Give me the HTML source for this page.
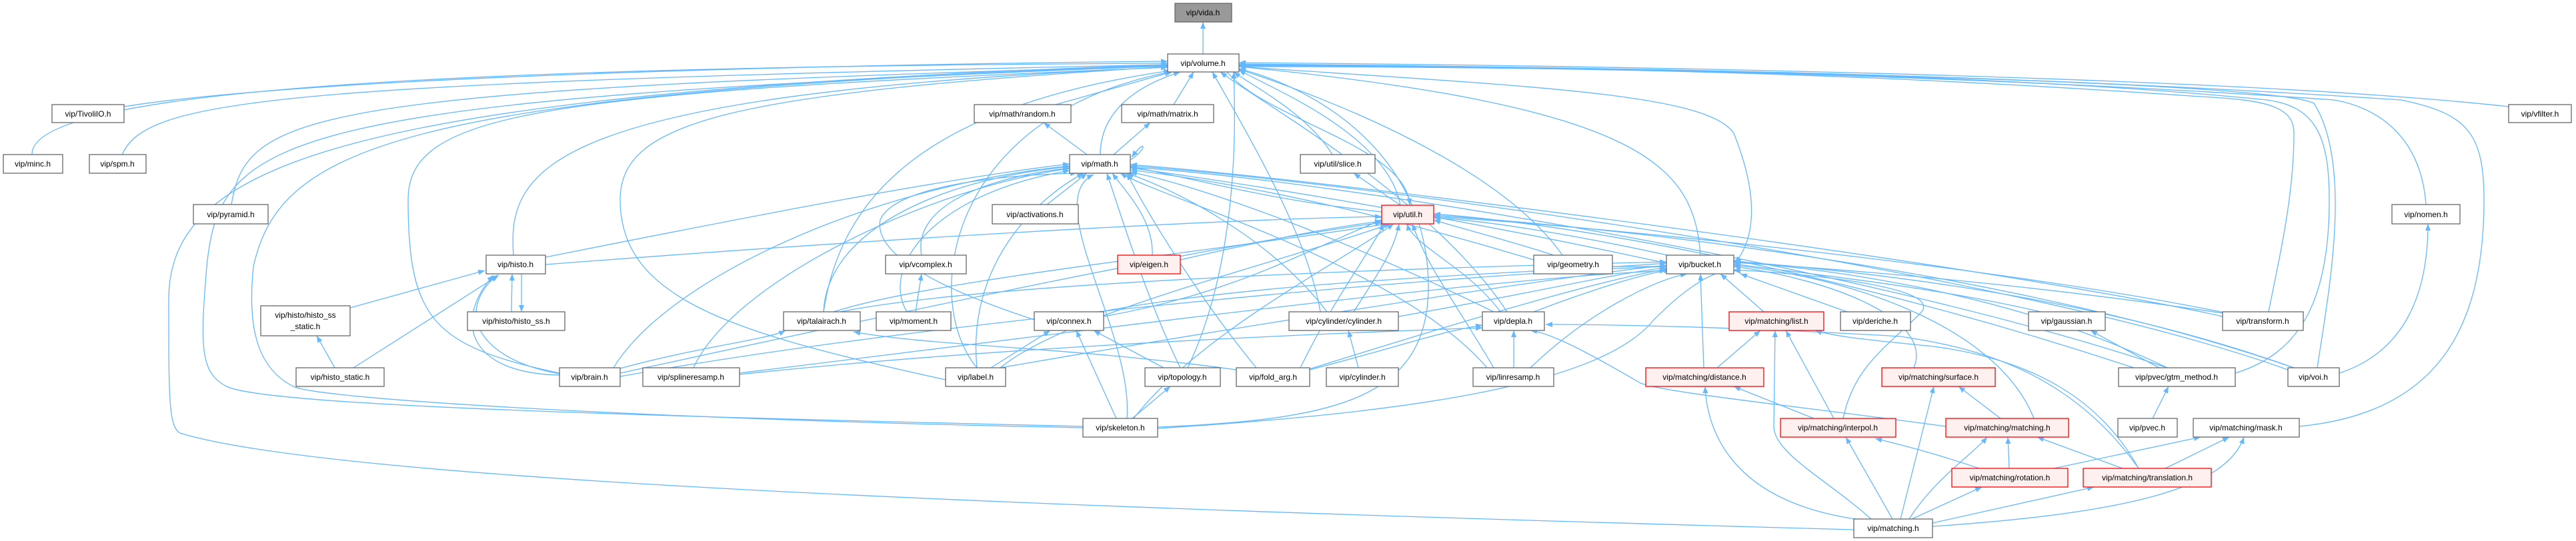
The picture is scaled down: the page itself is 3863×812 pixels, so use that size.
<!DOCTYPE html>
<html><head><meta charset="utf-8"><style>
html,body{margin:0;padding:0;background:#fff;}
svg{display:block;}
text{font-family:"Liberation Sans",sans-serif;font-size:12px;fill:#000;text-anchor:middle;}
.e{fill:none;stroke:#63b8ff;stroke-width:1.3;marker-end:url(#a);}
.n rect{fill:#fff;stroke:#666;stroke-width:1.3;}
.r rect{fill:#fff0f0;stroke:#f00;stroke-width:1.3;}
</style></head><body>
<svg width="3863" height="812" viewBox="0 0 3863 812" xmlns="http://www.w3.org/2000/svg">
<defs><marker id="a" markerUnits="userSpaceOnUse" markerWidth="12" markerHeight="10" refX="10" refY="4" orient="auto"><path d="M0,0 L10,4 L0,8 z" fill="#63b8ff"/></marker></defs>
<g>
<path class="e" d="M1804,81 L1804,33"/>
<path class="e" d="M186,160 C500,110 1400,95 1751,92"/>
<path class="e" d="M48,232 C45,140 600,100 1751,95"/>
<path class="e" d="M183,232 C220,150 400,125 1751,97"/>
<path class="e" d="M347,307 C370,170 450,135 1751,99"/>
<path class="e" d="M770,383 C760,250 820,140 1751,101"/>
<path class="e" d="M839,560 C650,520 612,480 612,300 C612,170 800,140 1751,101"/>
<path class="e" d="M2780,795 C1500,760 500,720 270,650 C253,640 253,600 253,450 C253,250 500,140 1751,97"/>
<path class="e" d="M1624,640 C1000,625 400,610 340,580 C300,560 300,520 310,400 C330,200 420,150 1751,99"/>
<path class="e" d="M1624,642 C1000,630 480,600 440,580 C380,550 372,480 380,400 C420,220 600,140 1751,98"/>
<path class="e" d="M1418,570 C1100,500 930,450 930,300 C930,180 1100,140 1751,100"/>
<path class="e" d="M1235,468 C1260,300 1380,160 1755,106"/>
<path class="e" d="M1465,552 C1380,450 1420,170 1760,107"/>
<path class="e" d="M1650,232 C1650,170 1700,130 1770,108"/>
<path class="e" d="M1583,157 L1757,108"/>
<path class="e" d="M1760,157 L1790,108"/>
<path class="e" d="M1781,552 C1830,450 1858,300 1850,108"/>
<path class="e" d="M1980,468 C1960,350 1870,200 1818,108"/>
<path class="e" d="M2260,468 C2150,300 1900,160 1830,108"/>
<path class="e" d="M1998,232 C1960,170 1880,130 1850,108"/>
<path class="e" d="M2100,308 C2080,200 1900,130 1858,105"/>
<path class="e" d="M1840,108 C1900,180 2110,220 2114,308"/>
<path class="e" d="M2343,383 C2250,250 2000,150 1858,104"/>
<path class="e" d="M2550,383 C2540,250 2470,160 1858,100"/>
<path class="e" d="M1858,100 C2300,130 2560,140 2600,200 C2640,300 2630,360 2602,395"/>
<path class="e" d="M1736,641 C2000,630 2142,600 2142,430 C2142,250 2000,140 1858,103"/>
<path class="e" d="M1736,643 C2100,620 2400,580 2480,480 C2560,400 2600,400 2611,411"/>
<path class="e" d="M3762,160 C3400,120 2600,100 1858,94"/>
<path class="e" d="M3638,307 C3630,200 3560,160 3500,150 C3000,115 2400,100 1858,96"/>
<path class="e" d="M3448,640 C3650,620 3725,500 3725,300 C3725,200 3700,170 3600,150 C3000,110 2400,100 1858,97"/>
<path class="e" d="M3508,560 C3600,530 3641,450 3641,336"/>
<path class="e" d="M3352,560 C3450,530 3493,450 3493,300 C3493,200 3470,160 3400,150 C3000,110 2400,100 1858,98"/>
<path class="e" d="M3475,552 C3490,450 3530,250 3470,155 C3400,120 2400,100 1858,99"/>
<path class="e" d="M3402,468 C3415,400 3440,300 3440,200 C3440,160 3400,150 3300,145 C2800,110 2400,100 1858,100"/>
<path class="e" d="M1570,307 L1630,260"/>
<path class="e" d="M1382,383 C1370,320 1450,270 1604,252"/>
<path class="e" d="M1728,383 C1730,330 1690,290 1668,260"/>
<path class="e" d="M1360,468 C1320,400 1400,290 1604,256"/>
<path class="e" d="M1235,468 C1240,350 1400,270 1604,250"/>
<path class="e" d="M1551,480 C1400,430 1310,380 1320,330 C1340,280 1500,262 1615,260"/>
<path class="e" d="M1465,552 C1450,400 1550,300 1625,260"/>
<path class="e" d="M1770,552 C1720,450 1680,320 1660,260"/>
<path class="e" d="M1884,552 C1800,450 1720,320 1690,260"/>
<path class="e" d="M1690,628 C1700,500 1560,300 1640,262"/>
<path class="e" d="M818,386 C1100,330 1400,270 1604,246"/>
<path class="e" d="M920,552 C1000,420 1300,280 1604,249"/>
<path class="e" d="M1040,552 C1100,420 1400,280 1604,253"/>
<path class="e" d="M2072,318 C1900,300 1800,270 1695,250"/>
<path class="e" d="M2499,395 C2200,330 1900,280 1695,252"/>
<path class="e" d="M2300,390 C2100,330 1900,280 1695,255"/>
<path class="e" d="M3333,475 C3000,400 2000,270 1695,247"/>
<path class="e" d="M3431,555 C3000,400 2000,270 1695,249"/>
<path class="e" d="M3250,552 C2800,400 2000,270 1695,251"/>
<path class="e" d="M1990,468 C1900,350 1750,280 1690,260"/>
<path class="e" d="M2240,468 C2000,350 1800,280 1695,258"/>
<path class="e" d="M2230,552 C2100,400 1750,300 1680,260"/>
<path class="e" d="M818,397 C1300,360 1800,330 2072,325"/>
<path class="e" d="M1655,475 C1850,440 1950,380 2072,330"/>
<path class="e" d="M1770,390 C1900,360 2000,340 2072,332"/>
<path class="e" d="M1250,468 C1400,420 1800,380 2080,336"/>
<path class="e" d="M1500,552 C1600,470 1900,400 2085,336"/>
<path class="e" d="M2250,468 C2200,400 2120,370 2110,336"/>
<path class="e" d="M2240,552 C2180,450 2140,400 2118,336"/>
<path class="e" d="M2030,468 C2060,420 2090,380 2098,336"/>
<path class="e" d="M1700,628 C1800,500 2000,400 2090,336"/>
<path class="e" d="M2330,383 C2260,360 2180,340 2150,330"/>
<path class="e" d="M2510,385 C2350,350 2220,330 2150,327"/>
<path class="e" d="M3340,470 C3000,400 2400,340 2150,325"/>
<path class="e" d="M3440,552 C3000,400 2400,340 2150,323"/>
<path class="e" d="M3200,552 C2800,420 2400,340 2150,321"/>
<path class="e" d="M2100,308 L2030,260"/>
<path class="e" d="M930,560 C1300,480 1800,370 2072,334"/>
<path class="e" d="M1950,552 C2000,450 2040,400 2076,336"/>
<path class="e" d="M2418,400 L2499,400"/>
<path class="e" d="M2097,475 C2300,440 2420,410 2499,402"/>
<path class="e" d="M2300,468 C2400,430 2470,410 2505,405"/>
<path class="e" d="M2295,552 C2380,470 2480,420 2530,411"/>
<path class="e" d="M2645,468 L2580,411"/>
<path class="e" d="M2770,468 L2610,411"/>
<path class="e" d="M2555,552 L2550,411"/>
<path class="e" d="M2764,628 C2780,550 2830,520 2880,470 C2920,430 2700,410 2600,405"/>
<path class="e" d="M2870,552 C2900,480 2750,420 2600,400"/>
<path class="e" d="M3050,628 C3000,500 2800,420 2600,398"/>
<path class="e" d="M3060,468 C2900,430 2700,410 2600,396"/>
<path class="e" d="M3333,470 C3000,420 2700,400 2600,394"/>
<path class="e" d="M3440,552 C3100,430 2700,400 2600,392"/>
<path class="e" d="M3250,552 C3000,430 2700,400 2600,393"/>
<path class="e" d="M1650,468 C1900,420 2300,410 2499,395"/>
<path class="e" d="M1500,552 C1800,500 2300,420 2499,398"/>
<path class="e" d="M1960,555 C2200,480 2400,420 2499,404"/>
<path class="e" d="M1260,468 C1500,420 2200,400 2499,393"/>
<path class="e" d="M1109,560 C1600,500 2200,420 2499,406"/>
<path class="e" d="M930,565 C1400,480 2200,410 2499,400"/>
<path class="e" d="M525,462 L727,406"/>
<path class="e" d="M767,468 L768,411"/>
<path class="e" d="M782,411 L782,468"/>
<path class="e" d="M530,552 L748,413"/>
<path class="e" d="M502,552 L475,504"/>
<path class="e" d="M839,561 C720,540 680,470 745,413"/>
<path class="e" d="M839,563 C700,560 680,480 740,413"/>
<path class="e" d="M930,553 C1050,520 1150,510 1178,496"/>
<path class="e" d="M1854,555 C1600,520 1400,520 1280,498"/>
<path class="e" d="M1486,552 L1575,496"/>
<path class="e" d="M1745,552 L1640,496"/>
<path class="e" d="M1674,628 L1614,496"/>
<path class="e" d="M1698,628 L1755,580"/>
<path class="e" d="M1373,468 L1382,411"/>
<path class="e" d="M2037,552 L2022,496"/>
<path class="e" d="M2270,552 L2270,496"/>
<path class="e" d="M1964,555 C2100,520 2150,500 2223,488"/>
<path class="e" d="M1109,562 C1500,520 2000,500 2223,492"/>
<path class="e" d="M2918,640 C2700,610 2500,590 2460,575 C2400,540 2330,500 2295,496"/>
<path class="e" d="M3207,703 C3100,550 2950,520 2850,505 C2600,490 2400,487 2318,487"/>
<path class="e" d="M2968,703 C2900,680 2860,670 2812,658"/>
<path class="e" d="M2575,552 L2640,496"/>
<path class="e" d="M2750,628 L2678,496"/>
<path class="e" d="M2806,779 C2740,720 2660,680 2660,640 L2662,496"/>
<path class="e" d="M3207,703 C3150,600 3050,540 2900,520 C2800,510 2750,505 2722,496"/>
<path class="e" d="M2720,628 L2600,580"/>
<path class="e" d="M2806,782 C2600,760 2560,650 2557,580"/>
<path class="e" d="M2838,779 L2768,656"/>
<path class="e" d="M2850,779 L2900,580"/>
<path class="e" d="M3000,628 L2937,580"/>
<path class="e" d="M3013,703 L3011,656"/>
<path class="e" d="M3183,703 L3055,656"/>
<path class="e" d="M2863,779 C2900,720 2960,680 2980,656"/>
<path class="e" d="M3080,703 L3300,656"/>
<path class="e" d="M3247,703 L3343,656"/>
<path class="e" d="M2898,790 C3200,770 3340,730 3365,656"/>
<path class="e" d="M2867,779 L2972,731"/>
<path class="e" d="M2898,785 L3140,731"/>
<path class="e" d="M3228,628 L3252,580"/>
<path class="e" d="M3238,552 L3135,496"/>
<path class="e" d="M1630,232 L1565,184"/>
<path class="e" d="M1670,232 L1725,184"/>
<path class="e" d="M1695,240 C1720,225 1720,205 1697,236"/>
</g>
<g class="n"><rect x="1762" y="5" width="85" height="28" style="fill:#999"/><text x="1804" y="23">vip/vida.h</text></g>
<g class="n"><rect x="1751" y="81" width="107" height="27"/><text x="1804" y="99">vip/volume.h</text></g>
<g class="n"><rect x="78" y="157" width="108" height="27"/><text x="132" y="175">vip/TivoliIO.h</text></g>
<g class="n"><rect x="5" y="232" width="89" height="28"/><text x="49" y="250">vip/minc.h</text></g>
<g class="n"><rect x="134" y="232" width="85" height="28"/><text x="176" y="250">vip/spm.h</text></g>
<g class="n"><rect x="290" y="307" width="112" height="29"/><text x="346" y="326">vip/pyramid.h</text></g>
<g class="n"><rect x="729" y="383" width="89" height="28"/><text x="773" y="401">vip/histo.h</text></g>
<g class="n"><rect x="391" y="459" width="134" height="45"/><text x="458" y="477">vip/histo/histo_ss</text><text x="458" y="494">_static.h</text></g>
<g class="n"><rect x="701" y="468" width="146" height="28"/><text x="774" y="486">vip/histo/histo_ss.h</text></g>
<g class="n"><rect x="444" y="552" width="132" height="28"/><text x="510" y="570">vip/histo_static.h</text></g>
<g class="n"><rect x="839" y="552" width="91" height="28"/><text x="884" y="570">vip/brain.h</text></g>
<g class="n"><rect x="964" y="552" width="145" height="28"/><text x="1036" y="570">vip/splineresamp.h</text></g>
<g class="n"><rect x="1175" y="468" width="115" height="28"/><text x="1232" y="486">vip/talairach.h</text></g>
<g class="n"><rect x="1314" y="468" width="112" height="28"/><text x="1370" y="486">vip/moment.h</text></g>
<g class="n"><rect x="1551" y="468" width="104" height="28"/><text x="1603" y="486">vip/connex.h</text></g>
<g class="n"><rect x="1418" y="552" width="90" height="28"/><text x="1463" y="570">vip/label.h</text></g>
<g class="n"><rect x="1717" y="552" width="113" height="28"/><text x="1773" y="570">vip/topology.h</text></g>
<g class="n"><rect x="1854" y="552" width="110" height="28"/><text x="1909" y="570">vip/fold_arg.h</text></g>
<g class="n"><rect x="1624" y="628" width="112" height="28"/><text x="1680" y="646">vip/skeleton.h</text></g>
<g class="n"><rect x="1461" y="157" width="145" height="27"/><text x="1533" y="175">vip/math/random.h</text></g>
<g class="n"><rect x="1682" y="157" width="138" height="27"/><text x="1751" y="175">vip/math/matrix.h</text></g>
<g class="n"><rect x="1604" y="232" width="91" height="28"/><text x="1649" y="250">vip/math.h</text></g>
<g class="n"><rect x="1488" y="307" width="129" height="29"/><text x="1552" y="326">vip/activations.h</text></g>
<g class="n"><rect x="1328" y="383" width="121" height="28"/><text x="1388" y="401">vip/vcomplex.h</text></g>
<g class="r"><rect x="1676" y="383" width="94" height="28"/><text x="1723" y="401">vip/eigen.h</text></g>
<g class="n"><rect x="1950" y="232" width="112" height="28"/><text x="2006" y="250">vip/util/slice.h</text></g>
<g class="r"><rect x="2072" y="308" width="78" height="28"/><text x="2111" y="326">vip/util.h</text></g>
<g class="n"><rect x="2300" y="383" width="118" height="28"/><text x="2359" y="401">vip/geometry.h</text></g>
<g class="n"><rect x="2499" y="383" width="101" height="28"/><text x="2549" y="401">vip/bucket.h</text></g>
<g class="n"><rect x="1933" y="468" width="164" height="28"/><text x="2015" y="486">vip/cylinder/cylinder.h</text></g>
<g class="n"><rect x="2223" y="468" width="93" height="28"/><text x="2269" y="486">vip/depla.h</text></g>
<g class="r"><rect x="2593" y="468" width="142" height="28"/><text x="2664" y="486">vip/matching/list.h</text></g>
<g class="n"><rect x="2760" y="468" width="105" height="28"/><text x="2812" y="486">vip/deriche.h</text></g>
<g class="n"><rect x="1989" y="552" width="108" height="28"/><text x="2043" y="570">vip/cylinder.h</text></g>
<g class="n"><rect x="2209" y="552" width="121" height="28"/><text x="2269" y="570">vip/linresamp.h</text></g>
<g class="r"><rect x="2468" y="552" width="177" height="28"/><text x="2556" y="570">vip/matching/distance.h</text></g>
<g class="r"><rect x="2822" y="552" width="170" height="28"/><text x="2907" y="570">vip/matching/surface.h</text></g>
<g class="r"><rect x="2670" y="628" width="173" height="28"/><text x="2756" y="646">vip/matching/interpol.h</text></g>
<g class="n"><rect x="2780" y="779" width="118" height="28"/><text x="2839" y="797">vip/matching.h</text></g>
<g class="n"><rect x="3042" y="468" width="115" height="28"/><text x="3099" y="486">vip/gaussian.h</text></g>
<g class="n"><rect x="3333" y="468" width="121" height="28"/><text x="3393" y="486">vip/transform.h</text></g>
<g class="n"><rect x="3177" y="552" width="175" height="28"/><text x="3264" y="570">vip/pvec/gtm_method.h</text></g>
<g class="n"><rect x="3431" y="552" width="77" height="28"/><text x="3469" y="570">vip/voi.h</text></g>
<g class="r"><rect x="2918" y="628" width="184" height="28"/><text x="3010" y="646">vip/matching/matching.h</text></g>
<g class="n"><rect x="3176" y="628" width="89" height="28"/><text x="3220" y="646">vip/pvec.h</text></g>
<g class="n"><rect x="3289" y="628" width="159" height="28"/><text x="3368" y="646">vip/matching/mask.h</text></g>
<g class="r"><rect x="2927" y="703" width="174" height="28"/><text x="3014" y="721">vip/matching/rotation.h</text></g>
<g class="r"><rect x="3124" y="703" width="192" height="28"/><text x="3220" y="721">vip/matching/translation.h</text></g>
<g class="n"><rect x="3762" y="157" width="94" height="27"/><text x="3809" y="175">vip/vfilter.h</text></g>
<g class="n"><rect x="3587" y="307" width="102" height="29"/><text x="3638" y="326">vip/nomen.h</text></g>
</svg>
</body></html>
